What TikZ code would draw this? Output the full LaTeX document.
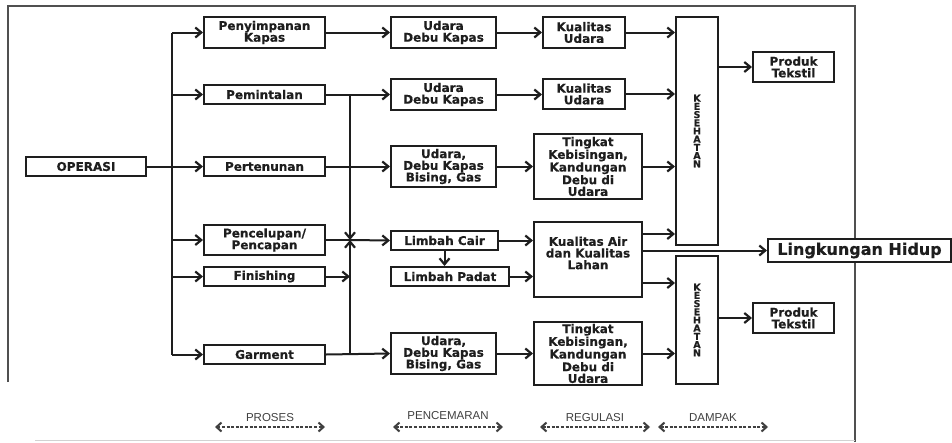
\documentclass[tikz,border=0pt]{standalone}
\usepackage{fontspec}
\setmainfont{DejaVu Sans}
\newfontfamily\boxfont[BoldFeatures={FakeBold=0.4}]{DejaVu Sans}
\newfontfamily\labfont{Liberation Sans}
\usetikzlibrary{arrows.meta,calc}
\definecolor{ink}{HTML}{1E1E1E}
\definecolor{framec}{HTML}{505050}
\begin{document}
\begin{tikzpicture}[x=1pt,y=-1pt,
  box/.style={draw=ink,line width=2pt,inner sep=0pt,align=center,text=ink,
    font=\boxfont\bfseries\fontsize{12}{11.7}\selectfont},
  vbox/.style={box,font=\boxfont\bfseries\fontsize{9.5}{8.2}\selectfont},
  big/.style={box,fill=white,font=\boxfont\bfseries\fontsize{16}{18}\selectfont},
  ln/.style={draw=ink,line width=2pt},
  arr/.style={ln,-{Straight Barb[length=6pt,width=10pt,line width=2.2pt]}},
  darr/.style={draw=ink!85,line width=1.5pt,dash pattern=on 3pt off 1.6pt,
    {Straight Barb[length=5pt,width=9pt,line width=2pt]}-{Straight Barb[length=5pt,width=9pt,line width=2pt]}},
  dlab/.style={font=\labfont\fontsize{11.5}{12}\selectfont,text=ink!85,inner sep=0pt}]
\useasboundingbox (0,0) rectangle (952,442);
\fill[white] (0,0) rectangle (952,442);
% frame
\draw[framec,line width=1.2pt] (8,382) -- (8,6) -- (855,6) -- (855,442);
\draw[gray!35,line width=1pt] (35,440) -- (855,440);
% column 1
\node[box,minimum width=120pt,minimum height=19pt] (op) at (86,166.5) {OPERASI};
% column 2
\node[box,minimum width=121pt,minimum height=31pt] (p1) at (264.5,32.5) {Penyimpanan\\Kapas};
\node[box,minimum width=121pt,minimum height=19pt] (p2) at (264.5,94.5) {Pemintalan};
\node[box,minimum width=121pt,minimum height=19pt] (p3) at (264.5,166.5) {Pertenunan};
\node[box,minimum width=121pt,minimum height=30pt] (p4) at (264.5,240) {Pencelupan/\\Pencapan};
\node[box,minimum width=121pt,minimum height=19pt] (p5) at (264.5,276.5) {Finishing};
\node[box,minimum width=121pt,minimum height=19pt] (p6) at (264.5,354.5) {Garment};
% column 3
\node[box,minimum width=105pt,minimum height=31pt] (u1) at (443.5,32.5) {Udara\\Debu Kapas};
\node[box,minimum width=105pt,minimum height=31pt] (u2) at (443.5,94.5) {Udara\\Debu Kapas};
\node[box,minimum width=105pt,minimum height=41pt] (u3) at (443.5,166.5) {Udara,\\Debu Kapas\\Bising, Gas};
\node[box,minimum width=107pt,minimum height=19pt] (lc) at (444.5,240.5) {Limbah Cair};
\node[box,minimum width=118pt,minimum height=19pt] (lp) at (450,276.5) {Limbah Padat};
\node[box,minimum width=105pt,minimum height=41pt] (u4) at (443.5,353.5) {Udara,\\Debu Kapas\\Bising, Gas};
% column 4
\node[box,minimum width=82pt,minimum height=31pt] (k1) at (584,32.5) {Kualitas\\Udara};
\node[box,minimum width=82pt,minimum height=30pt] (k2) at (584,94) {Kualitas\\Udara};
\node[box,minimum width=108pt,minimum height=65pt] (t1) at (588,166.5) {Tingkat\\Kebisingan,\\Kandungan\\Debu di\\Udara};
\node[box,minimum width=108pt,minimum height=75pt] (ka) at (588,259.5) {};
\node[box,draw=none,anchor=center] (kat) at (588,253) {Kualitas Air\\dan Kualitas\\Lahan};
\node[box,minimum width=108pt,minimum height=63pt] (t2) at (588,353.5) {Tingkat\\Kebisingan,\\Kandungan\\Debu di\\Udara};
% column 5
\node[vbox,minimum width=42pt,minimum height=228pt] (ks1) at (697,131) {K\\E\\S\\E\\H\\A\\T\\A\\N};
\node[vbox,minimum width=42pt,minimum height=128pt] (ks2) at (697,320) {K\\E\\S\\E\\H\\A\\T\\A\\N};
% outputs
\node[box,minimum width=81pt,minimum height=30pt] (pt1) at (793.5,67) {Produk\\Tekstil};
\node[box,minimum width=81pt,minimum height=30pt] (pt2) at (793.5,318) {Produk\\Tekstil};
\node[big,minimum width=183pt,minimum height=23pt] (lh) at (859.5,250.5) {Lingkungan Hidup};
% junctions
\coordinate (ta) at (172,32.5);
\coordinate (tb) at (172,354.5);
\coordinate (j1) at (350,94.5);
\coordinate (jx) at (350,240);
\coordinate (j6) at (350,354.5);
% connectors
\draw[arr] (op.east) -- (p3.west);
\draw[ln] (ta) -- (tb);
\draw[arr] (ta) -- (p1.west);
\draw[arr] (ta |- p2.west) -- (p2.west);
\draw[arr] (ta |- p4.west) -- (p4.west);
\draw[arr] (ta |- p5.west) -- (p5.west);
\draw[arr] (tb) -- (p6.west);
\draw[arr] (p1.east) -- (u1.west);
\draw[arr] (p2.east) -- (u2.west);
\draw[arr] (p3.east) -- (u3.west);
\draw[ln] (p4.east) -- (jx);
\draw[arr] (jx) -- (lc.west);
\draw[arr] (p5.east) -- (p5.east -| jx);
\draw[arr] (p6.east) -- (u4.west);
\draw[arr] (j1) -- (jx);
\draw[arr] (j6) -- (jx);
\draw[arr] (lc.south) -- (lc.south |- lp.north);
\draw[arr] (u1.east) -- (k1.west);
\draw[arr] (u2.east) -- (u2.east -| k2.west);
\draw[arr] (u3.east) -- (t1.west);
\draw[arr] (lc.east) -- (lc.east -| ka.west);
\draw[arr] (lp.east) -- (lp.east -| ka.west);
\draw[arr] (u4.east) -- (u4.east -| t2.west);
\draw[arr] (k1.east) -- (k1.east -| ks1.west);
\draw[arr] (k2.east) -- (k2.east -| ks1.west);
\draw[arr] (t1.east) -- (t1.east -| ks1.west);
\draw[arr] ([yshift=25.5pt]ka.east) -- ([yshift=25.5pt]ka.east -| ks1.west);
\draw[arr] (ka.east |- lh.west) -- (lh.west);
\draw[arr] ([yshift=-23.5pt]ka.east) -- ([yshift=-23.5pt]ka.east -| ks2.west);
\draw[arr] (t2.east) -- (t2.east -| ks2.west);
\draw[arr] (pt1.west -| ks1.east) -- (pt1.west);
\draw[arr] (pt2.west -| ks2.east) -- (pt2.west);
% legend
\coordinate (a1) at (215,427); \coordinate (a2) at (325,427);
\coordinate (b1) at (393,427); \coordinate (b2) at (503,427);
\coordinate (c1) at (540,427); \coordinate (c2) at (650,427);
\coordinate (d1) at (658,427); \coordinate (d2) at (768,427);
\draw[darr] (a1) -- (a2);
\draw[darr] (b1) -- (b2);
\draw[darr] (c1) -- (c2);
\draw[darr] (d1) -- (d2);
\node[dlab] (la) at (270,418) {PROSES};
\node[dlab] (lb) at (448,416) {PENCEMARAN};
\node[dlab] (lcx) at (595,418) {REGULASI};
\node[dlab] (ld) at (713,418) {DAMPAK};
\end{tikzpicture}
\end{document}
